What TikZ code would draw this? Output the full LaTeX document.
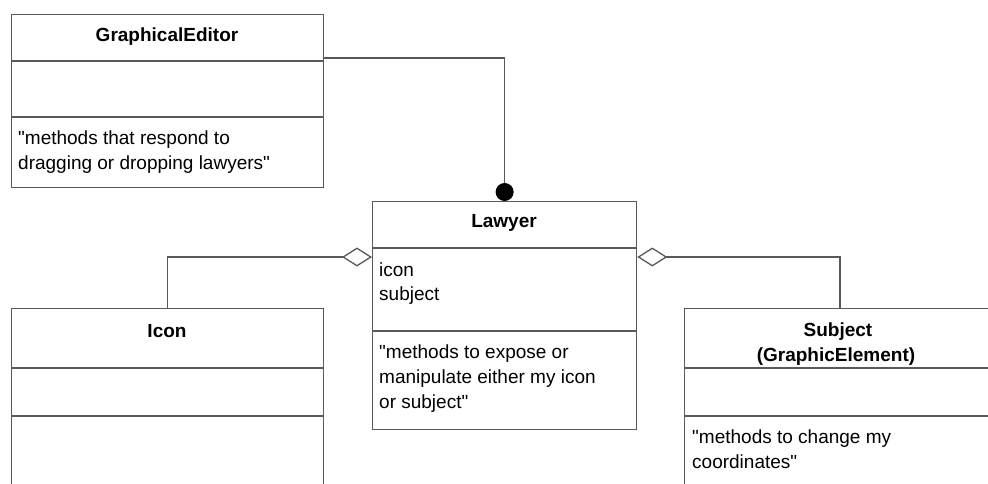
\documentclass[tikz,border=0pt]{standalone}
\usepackage{fontspec}
\setmainfont{Liberation Sans}[Ligatures=TeXOff]
\usetikzlibrary{arrows.meta}
\begin{document}
\begin{tikzpicture}[x=1pt,y=-1pt,
  umlbox/.style={draw=black!65,line width=1.3pt,anchor=north west,inner sep=0pt},
  divider/.style={draw=black!65,line width=1.3pt},
  conn/.style={draw=black!65,line width=1.3pt},
  ttl/.style={anchor=base,inner sep=0pt,font=\fontsize{19}{25}\selectfont\bfseries},
  txt/.style={anchor=base west,inner sep=0pt,font=\fontsize{19}{25}\selectfont},
  agg/.style={-{Diamond[open,length=30pt,width=19pt,line width=1.3pt]}},
  dotend/.style={-{Circle[length=18pt,color=black]}}]
\clip (0,0) rectangle (988,484);
\fill[white] (0,0) rectangle (988,484);
% boxes
\node[umlbox,minimum width=312pt,minimum height=173pt] (ge) at (11,14) {};
\node[umlbox,minimum width=264pt,minimum height=228pt] (lawyer) at (372,201) {};
\node[umlbox,minimum width=312pt,minimum height=200pt] (icon) at (11,308) {};
\node[umlbox,minimum width=312pt,minimum height=200pt] (subject) at (684,308) {};
% dividers
\draw[divider] (ge.west |- 0,61) -- (ge.east |- 0,61);
\draw[divider] (ge.west |- 0,117) -- (ge.east |- 0,117);
\draw[divider] (lawyer.west |- 0,248) -- (lawyer.east |- 0,248);
\draw[divider] (lawyer.west |- 0,331) -- (lawyer.east |- 0,331);
\draw[divider] (icon.west |- 0,368) -- (icon.east |- 0,368);
\draw[divider] (icon.west |- 0,416) -- (icon.east |- 0,416);
\draw[divider] (subject.west |- 0,368) -- (subject.east |- 0,368);
\draw[divider] (subject.west |- 0,416) -- (subject.east |- 0,416);
% texts
\node[ttl] (geT) at (167,42) {GraphicalEditor};
\node[txt] (geM1) at (18,145) {"methods that respond to};
\node[txt] (geM2) at (18,169) {dragging or dropping lawyers"};
\node[ttl] (lwT) at (504,227) {Lawyer};
\node[txt] (lwA1) at (379,276) {icon};
\node[txt] (lwA2) at (379,300) {subject};
\node[txt] (lwM1) at (379,358) {"methods to expose or};
\node[txt] (lwM2) at (379,383) {manipulate either my icon};
\node[txt] (lwM3) at (379,408) {or subject"};
\node[ttl] (icT) at (167,337) {Icon};
\node[ttl] (sbT1) at (838,336) {Subject};
\node[ttl] (sbT2) at (836,361) {(GraphicElement)};
\node[txt] (sbM1) at (692,443) {"methods to change my};
\node[txt] (sbM2) at (692,468) {coordinates"};
% connectors
\coordinate (geOut) at (ge.east |- 0,58);
\coordinate (lawL) at (lawyer.west |- 0,257);
\coordinate (lawR) at (lawyer.east |- 0,257);
\draw[conn,dotend] (geOut) -| (lawyer.north);
\draw[conn,agg] (icon.north) |- (lawL);
\draw[conn,agg] (subject.north -| 840,0) |- (lawR);
\end{tikzpicture}
\end{document}
